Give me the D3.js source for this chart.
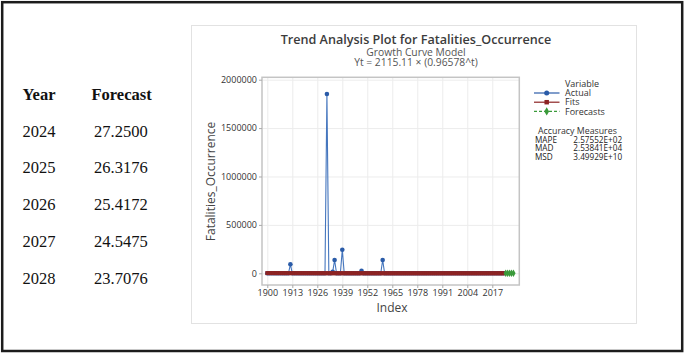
<!DOCTYPE html>
<html>
<head>
<meta charset="utf-8">
<script src="https://cdn.jsdelivr.net/npm/d3@7"></script>
<style>
  body { margin: 0; background: #fff; }
  svg { display: block; }
  .mt text { font-family: "Open Sans", "Noto Sans", sans-serif; }
  .tbl text { font-family: "Liberation Serif", "DejaVu Serif", serif; fill: #111; }
</style>
</head>
<body>
<div id="chart"></div>
<script>
// Fatalities_Occurrence, one value per year 1900..2023 (Index)
const firstYear = 1900;
const actual = [
  0, 0, 0, 0, 0, 0, 0, 0, 0, 0,
  0, 0, 93000, 0, 0, 0, 0, 0, 0, 0,
  0, 0, 0, 0, 0, 0, 0, 0, 0, 0,
  0, 1852000, 0, 0, 15000, 137000, 0, 0, 0, 244000,
  0, 0, 0, 0, 0, 0, 0, 0, 0, 27000,
  0, 0, 0, 0, 0, 0, 0, 0, 0, 0,
  137000, 0, 0, 0, 0, 0, 0, 0, 0, 0,
  0, 0, 0, 0, 0, 0, 0, 0, 0, 0,
  0, 0, 0, 0, 0, 0, 0, 0, 0, 0,
  0, 0, 0, 0, 0, 0, 0, 0, 0, 0,
  0, 0, 0, 0, 0, 0, 0, 0, 0, 0,
  0, 0, 0, 0, 0, 0, 0, 0, 0, 0,
  0, 0, 0, 0
];
// fitted values of the growth curve model, same years
const fits = [
  2043, 1973, 1905, 1840, 1777, 1716, 1658, 1601, 1546, 1493,
  1442, 1393, 1345, 1299, 1255, 1212, 1170, 1130, 1092, 1054,
  1018, 983, 950, 917, 886, 855, 826, 798, 771, 744,
  719, 694, 670, 648, 625, 604, 583, 563, 544, 525,
  507, 490, 473, 457, 441, 426, 412, 398, 384, 371,
  358, 346, 334, 323, 312, 301, 291, 281, 271, 262,
  253, 244, 236, 228, 220, 213, 205, 198, 191, 185,
  179, 172, 167, 161, 155, 150, 145, 140, 135, 131,
  126, 122, 118, 114, 110, 106, 102, 99, 95, 92,
  89, 86, 83, 80, 77, 75, 72, 70, 67, 65,
  63, 61, 59, 57, 55, 53, 51, 49, 48, 46,
  44, 43, 41, 40, 39, 37, 36, 35, 34, 32,
  31, 30, 29, 28
];
const forecastYears = [2024, 2025, 2026, 2027, 2028];
const forecasts = [27.2500, 26.3176, 25.4172, 24.5475, 23.7076];

const xTicks = [1900, 1913, 1926, 1939, 1952, 1965, 1978, 1991, 2004, 2017];
const yTicks = [0, 500000, 1000000, 1500000, 2000000];

const legendItems = ["Actual", "Fits", "Forecasts"];
const accuracyNames = ["MAPE", "MAD", "MSD"];
const accuracyValues = ["2.57552E+02", "2.53841E+04", "3.49929E+10"];

const W = 685, H = 353;
const blue = "#2a5ba8", blueLine = "#4576be", red = "#8c2323", green = "#3a9a3a";

const svg = d3.select("#chart").append("svg")
  .attr("width", W)
  .attr("height", H);

// outer frame
svg.append("rect")
  .attr("x", 2.2).attr("y", 2.2)
  .attr("width", 680).attr("height", 348.8)
  .attr("fill", "none")
  .attr("stroke", "#1c1c1c")
  .attr("stroke-width", 2.5);

// forecast table on the left
const tbl = svg.append("g").attr("class", "tbl");
tbl.append("text").attr("x", 22.5).attr("y", 100)
  .attr("font-size", 16.5).attr("font-weight", "bold").text("Year");
tbl.append("text").attr("x", 91.5).attr("y", 100)
  .attr("font-size", 16.5).attr("font-weight", "bold").text("Forecast");
tbl.selectAll("text.yr")
  .data(forecastYears)
  .enter().append("text")
  .attr("class", "yr")
  .attr("x", 22.5)
  .attr("y", (d, i) => 136.7 + i * 36.7)
  .attr("font-size", 16.5)
  .text(d => d);
tbl.selectAll("text.fc")
  .data(forecasts)
  .enter().append("text")
  .attr("class", "fc")
  .attr("x", 94)
  .attr("y", (d, i) => 136.7 + i * 36.7)
  .attr("font-size", 16.5)
  .text(d => d.toFixed(4));

// minitab panel
const mt = svg.append("g").attr("class", "mt");
mt.append("rect")
  .attr("x", 191.5).attr("y", 25.5)
  .attr("width", 445).attr("height", 298)
  .attr("fill", "#fff")
  .attr("stroke", "#e2e2e2");

mt.append("text").attr("x", 416).attr("y", 44.3)
  .attr("text-anchor", "middle").attr("font-size", 12.6).attr("font-weight", 600)
  .attr("fill", "#3c3c3c")
  .text("Trend Analysis Plot for Fatalities_Occurrence");
mt.append("text").attr("x", 416).attr("y", 55.5)
  .attr("text-anchor", "middle").attr("font-size", 10.3)
  .attr("fill", "#555")
  .text("Growth Curve Model");
mt.append("text").attr("x", 416).attr("y", 65.8)
  .attr("text-anchor", "middle").attr("font-size", 10.3)
  .attr("fill", "#555")
  .text("Yt = 2115.11 × (0.96578^t)");

const plot = { left: 262, right: 519.3, top: 77.3, bottom: 285 };

const x = d3.scaleLinear()
  .domain([1897.24, 2031.05])
  .range([plot.left, plot.right]);
const y = d3.scaleLinear()
  .domain([-120900, 2024800])
  .range([plot.bottom, plot.top]);

// gridlines
mt.append("g")
  .attr("transform", `translate(0,${plot.bottom})`)
  .call(d3.axisBottom(x).tickValues(xTicks).tickSize(-(plot.bottom - plot.top)).tickFormat(""))
  .call(g => g.select(".domain").remove())
  .call(g => g.selectAll("line").attr("stroke", "#ececec"));
mt.append("g")
  .attr("transform", `translate(${plot.left},0)`)
  .call(d3.axisLeft(y).tickValues(yTicks).tickSize(-(plot.right - plot.left)).tickFormat(""))
  .call(g => g.select(".domain").remove())
  .call(g => g.selectAll("line").attr("stroke", "#ececec"));

// frame
mt.append("rect")
  .attr("x", plot.left).attr("y", plot.top)
  .attr("width", plot.right - plot.left).attr("height", plot.bottom - plot.top)
  .attr("fill", "none")
  .attr("stroke", "#c4c4c4")
  .attr("stroke-width", 1.5);

// axes
const xAxis = mt.append("g")
  .attr("transform", `translate(0,${plot.bottom})`)
  .call(d3.axisBottom(x).tickValues(xTicks).tickSize(3).tickPadding(2).tickFormat(d3.format("d")));
const yAxis = mt.append("g")
  .attr("transform", `translate(${plot.left},0)`)
  .call(d3.axisLeft(y).tickValues(yTicks).tickSize(3).tickPadding(2).tickFormat(d3.format("d")));
[xAxis, yAxis].forEach(a => {
  a.select(".domain").remove();
  a.selectAll("line").attr("stroke", "#aaa");
  a.selectAll("text").attr("fill", "#333").attr("font-size", 9)
    .attr("font-family", "\"Open Sans\", sans-serif");
});

mt.append("text")
  .attr("x", 392).attr("y", 312)
  .attr("text-anchor", "middle").attr("font-size", 12).attr("fill", "#444")
  .text("Index");
mt.append("text")
  .attr("transform", `translate(215,181.5) rotate(-90)`)
  .attr("text-anchor", "middle").attr("font-size", 12).attr("fill", "#444")
  .text("Fatalities_Occurrence");

// series
const actualPts = actual.map((v, i) => ({ year: firstYear + i, value: v }));
const fitPts = fits.map((v, i) => ({ year: firstYear + i, value: v }));
const fcPts = forecasts.map((v, i) => ({ year: forecastYears[i], value: v }));

const line = d3.line().x(d => x(d.year)).y(d => y(d.value));

mt.append("path")
  .datum(actualPts)
  .attr("fill", "none")
  .attr("stroke", blueLine)
  .attr("stroke-width", 1.1)
  .attr("d", line);
mt.append("g")
  .selectAll("circle")
  .data(actualPts)
  .enter().append("circle")
  .attr("cx", d => x(d.year))
  .attr("cy", d => y(d.value))
  .attr("r", 2.3)
  .attr("fill", blue);

mt.append("path")
  .datum(fitPts)
  .attr("fill", "none")
  .attr("stroke", red)
  .attr("stroke-width", 1.2)
  .attr("d", line);
mt.append("g")
  .selectAll("rect")
  .data(fitPts)
  .enter().append("rect")
  .attr("x", d => x(d.year) - 2)
  .attr("y", d => y(d.value) - 2)
  .attr("width", 4)
  .attr("height", 4)
  .attr("fill", red);

mt.append("path")
  .datum(fcPts)
  .attr("fill", "none")
  .attr("stroke", green)
  .attr("stroke-width", 1.2)
  .attr("stroke-dasharray", "3,2")
  .attr("d", line);
mt.append("g")
  .selectAll("path.dia")
  .data(fcPts)
  .enter().append("path")
  .attr("class", "dia")
  .attr("transform", d => `translate(${x(d.year)},${y(d.value)})`)
  .attr("d", d3.symbol(d3.symbolDiamond, 16))
  .attr("fill", green);

// legend
const lg = mt.append("g");
lg.append("text").attr("x", 565).attr("y", 86.5)
  .attr("font-size", 9).attr("fill", "#333").text("Variable");
const legColors = [blue, red, green];
const legSyms = [d3.symbolCircle, d3.symbolSquare, d3.symbolDiamond];
legendItems.forEach((name, i) => {
  const yy = 93 + i * 9.2;
  lg.append("line")
    .attr("x1", 534).attr("x2", 559.5)
    .attr("y1", yy).attr("y2", yy)
    .attr("stroke", legColors[i])
    .attr("stroke-width", 1.2)
    .attr("stroke-dasharray", i === 2 ? "3,2" : null);
  lg.append("path")
    .attr("transform", `translate(546.7,${yy})`)
    .attr("d", d3.symbol(legSyms[i], 20))
    .attr("fill", legColors[i]);
  lg.append("text").attr("x", 565).attr("y", yy + 3.2)
    .attr("font-size", 9).attr("fill", "#333").text(name);
});

lg.append("text").attr("x", 538).attr("y", 134)
  .attr("font-size", 8.8).attr("fill", "#333").text("Accuracy Measures");
accuracyNames.forEach((name, i) => {
  lg.append("text").attr("x", 535).attr("y", 142.7 + i * 8.7)
    .attr("font-size", 8.2).attr("fill", "#222").text(name);
  lg.append("text").attr("x", 573.3).attr("y", 142.7 + i * 8.7)
    .attr("font-size", 8.2).attr("fill", "#222").text(accuracyValues[i]);
});
</script>
</body>
</html>
